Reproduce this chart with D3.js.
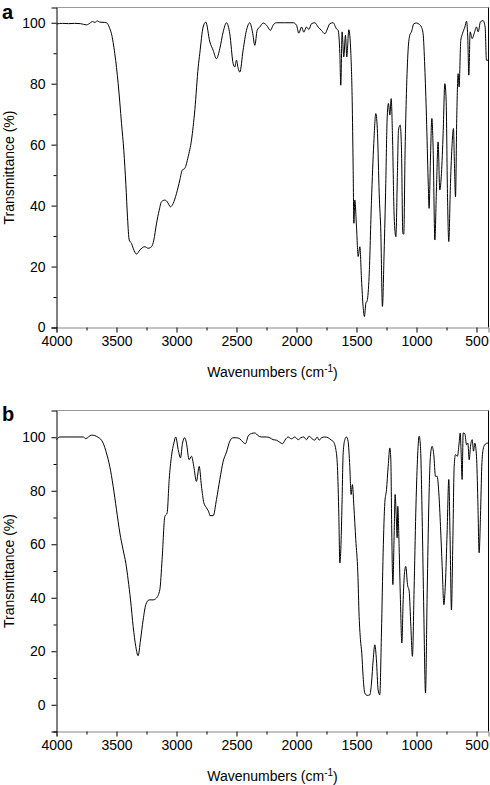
<!DOCTYPE html>
<html>
<head>
<meta charset="utf-8">
<script src="https://cdnjs.cloudflare.com/ajax/libs/d3/7.8.5/d3.min.js"></script>
<style>
  html, body { margin: 0; padding: 0; background: #fff; }
  svg { display: block; }
  text { font-family: "Liberation Sans", Arial, Helvetica, sans-serif; fill: #000; }
</style>
</head>
<body>
<svg id="chart" width="490" height="785"></svg>
<script>
// ---------- Data ----------
const wavenumbersA = [4000,3950,3900,3850,3800,3750,3720,3700,3680,3660,3640,3600,3583,3560,3542,3514,3486,3458,3439,3422,3408,3394,3375,3361,3333,3306,3264,3236,3208,3189,3167,3144,3125,3097,3078,3050,3028,3000,2972,2953,2931,2903,2875,2847,2819,2806,2778,2756,2722,2695,2667,2639,2611,2583,2556,2528,2514,2500,2486,2472,2445,2417,2389,2367,2347,2328,2306,2278,2250,2217,2195,2167,2100,2028,2000,1981,1958,1939,1917,1897,1875,1847,1820,1792,1764,1736,1722,1695,1667,1653,1639,1631,1620,1606,1592,1581,1564,1547,1536,1528,1522,1514,1500,1486,1472,1458,1445,1434,1422,1411,1395,1375,1356,1339,1325,1311,1297,1284,1270,1256,1245,1234,1222,1211,1200,1186,1172,1159,1150,1136,1125,1114,1106,1095,1084,1070,1056,1042,1022,1000,978,959,945,931,917,903,895,884,872,861,847,834,820,806,792,778,764,753,742,731,717,703,692,684,675,664,653,645,631,617,597,583,572,564,553,536,520,500,486,467,445,428,417,400];
const transmittanceA = [99.6,99.8,99.7,99.8,99.7,99.3,99.9,100.4,100.1,100.6,100.2,100.1,100,98.5,96.4,89.8,80,66.9,58,47,36,28.7,27.6,26,24.1,25.4,26.5,26,26.5,28.7,34,38.5,41.3,41.8,41.3,39.6,40.7,44,48.4,51.6,52.2,56,61.5,71.5,85.5,89.9,98.6,100.2,93.7,91,88.2,91.5,97,100,96.4,86.6,85.5,87.7,85,83.8,91,97.5,100,97,92.6,97.5,98.6,99.9,99.2,97.5,99.2,100,100,100,99.2,96.6,98.6,96.9,98.6,97.8,99.7,100,98.6,97.5,96.4,98.6,99.7,100,98,97.5,89.9,79.5,97,88.8,95.9,88.8,97.7,89.9,74.6,52.7,34.2,41.8,33,23.3,26.5,15.6,6.9,3.6,8,8.8,16.7,41.8,60.4,70.2,63.7,44,30.9,6.9,24.4,47.3,68.1,73.5,69.7,75.1,62.6,36.3,29.8,50.6,64.8,66.4,58.2,30.9,30.6,58.2,76.8,91,95.9,97,99.7,99.9,99.5,98.6,96.4,85.5,69.1,48.4,39.1,54.9,68.6,58.2,28.7,45.1,60.9,45.1,50.6,63.7,80,74.6,44,28.2,47.3,60.4,65.3,53.8,42.9,70,83.3,78.9,94.2,96.4,98.6,100.5,94.2,82.8,97,94.8,96.4,98.6,97,100.3,100.7,98.6,87.7,87.7];

const wavenumbersB = [4000,3972,3889,3778,3756,3708,3653,3611,3584,3556,3528,3500,3472,3445,3422,3403,3383,3361,3339,3320,3300,3278,3256,3228,3195,3167,3139,3120,3097,3078,3061,3042,3022,3006,2986,2967,2950,2931,2917,2895,2875,2856,2834,2811,2792,2772,2750,2728,2722,2694,2667,2639,2611,2583,2556,2528,2500,2472,2445,2425,2403,2375,2347,2320,2292,2250,2222,2195,2167,2139,2117,2089,2070,2042,2014,1986,1964,1939,1917,1895,1870,1847,1828,1811,1792,1764,1736,1709,1695,1672,1659,1647,1639,1628,1620,1611,1597,1584,1570,1556,1545,1534,1522,1506,1489,1478,1467,1456,1445,1431,1411,1389,1375,1361,1347,1334,1320,1306,1292,1278,1264,1250,1236,1222,1214,1206,1197,1186,1178,1170,1161,1156,1145,1134,1122,1111,1100,1089,1075,1061,1047,1034,1020,1006,992,978,967,953,939,925,911,897,884,870,856,842,828,814,800,786,772,759,745,731,720,709,697,686,675,659,645,636,628,620,611,597,583,572,561,550,536,525,514,500,489,478,467,456,445,431,411,400];
const transmittanceB = [99.1,100.1,100.1,100.1,99.5,100.8,100,97.8,94.1,89.1,81.7,72.9,64.2,57.9,52.9,46.7,39.2,29.2,21.7,18.3,24.2,31.7,37.4,39.2,39.2,39.9,43,54.3,70.4,71.7,84.2,92.9,97.8,100.1,95.4,92.3,97.8,99.8,97.8,91.6,92.9,89.1,83.5,89.1,81.7,75.5,73.6,71.7,70.7,70.7,76.7,84.2,91,94.5,98.5,99.8,99.8,99.4,98.1,97.6,100.4,101.4,101.6,100.6,100.1,100.1,99.8,99.1,98.9,98.1,97.6,99.4,100.1,99.4,100.1,99.1,99.8,100.1,99.1,100.4,99.4,98.9,100.1,98.9,99.8,100.1,99.8,98.9,98.5,95.4,89.1,70.4,53,61.7,76.7,94.2,99.1,100.1,98.5,89.1,78.6,82.3,74.2,61.7,49.3,33,24.3,19.3,10.6,4.4,3.5,3.7,8.1,16.8,22.4,16.8,5.6,3.7,26.8,56.8,75.5,80.4,89.1,96,91.6,64.2,44.9,64.2,78.6,71.7,62.4,74.2,59.2,39.3,23.1,39.3,49.3,51.7,44.9,42.4,29.3,18.1,43,71.7,91.6,100.4,96.6,70.4,34.3,4.4,41.8,75.5,92.9,96.6,93.5,85.4,85.4,79.2,66.7,51.7,37.4,45.5,64.2,84.2,61.7,35.5,61.7,89.1,93.5,92.9,97.8,101.6,94.2,84.2,101.6,101.3,97.2,97.8,91.6,96.6,99.1,94.8,97.8,92.9,76.7,56.8,70.4,89.1,95.4,97.2,97.8,97.8];

const xMajorTicks = [4000,3500,3000,2500,2000,1500,1000,500];
const xMinorTicks = [3750,3250,2750,2250,1750,1250,750];
const yMajorTicksA = [0,20,40,60,80,100];
const yMinorTicksA = [10,30,50,70,90];
const yMajorTicksB = [0,20,40,60,80,100];
const yMinorTicksB = [-10,10,30,50,70,90];
const xDomain = [4000, 400];
const yDomainA = [0, 105];
const yDomainB = [-10, 110];
const panelLabels = ["a", "b"];
const xTitle = "Wavenumbers (cm";
const yTitle = "Transmittance (%)";

// ---------- Drawing ----------
const svg = d3.select("#chart");
const left = 56.5, right = 488.5;

function drawPanel(cfg) {
  const x = d3.scaleLinear().domain(xDomain).range([left, right]);
  const y = d3.scaleLinear().domain(cfg.yDomain).range([cfg.bottom, cfg.top]);
  const g = svg.append("g");

  // frame: top and right borders
  g.append("line").attr("x1", left).attr("x2", right).attr("y1", cfg.top).attr("y2", cfg.top)
    .attr("stroke", "#999").attr("stroke-width", 1.2);
  g.append("line").attr("x1", right).attr("x2", right).attr("y1", cfg.top).attr("y2", cfg.bottom)
    .attr("stroke", "#000").attr("stroke-width", 1);

  // x axis major
  const xAx = g.append("g").attr("transform", `translate(0,${cfg.bottom})`)
    .call(d3.axisBottom(x).tickValues(xMajorTicks).tickSize(5).tickPadding(4).tickFormat(d3.format("d")));
  xAx.select(".domain").attr("stroke", "#888").attr("stroke-width", 1.2);
  xAx.selectAll(".tick line").attr("stroke", "#000");
  xAx.selectAll("text").style("font-size", "14px").attr("fill", "#000");
  // x axis minor
  const xMin = g.append("g").attr("transform", `translate(0,${cfg.bottom})`)
    .call(d3.axisBottom(x).tickValues(xMinorTicks).tickSize(3).tickFormat(""));
  xMin.select(".domain").remove();
  xMin.selectAll(".tick line").attr("stroke", "#000");

  // y axis major
  const yAx = g.append("g").attr("transform", `translate(${left},0)`)
    .call(d3.axisLeft(y).tickValues(cfg.yMajor).tickSize(5).tickPadding(6).tickFormat(d3.format("d")));
  yAx.select(".domain").attr("stroke", "#000").attr("stroke-width", 1);
  yAx.selectAll(".tick line").attr("stroke", "#000");
  yAx.selectAll("text").style("font-size", "14px").attr("fill", "#000");
  const yMin = g.append("g").attr("transform", `translate(${left},0)`)
    .call(d3.axisLeft(y).tickValues(cfg.yMinor).tickSize(3).tickFormat(""));
  yMin.select(".domain").remove();
  yMin.selectAll(".tick line").attr("stroke", "#000");

  // spectrum
  const data = cfg.wn.map((w, i) => ({ w, t: cfg.tr[i] }));
  const line = d3.line().x(d => x(d.w)).y(d => y(d.t)).curve(d3.curveMonotoneX);
  g.append("path").datum(data).attr("d", line)
    .attr("fill", "none").attr("stroke", "#000").attr("stroke-width", 1)
    .attr("stroke-linejoin", "round");

  // x title
  const xt = g.append("text").attr("x", (left + right) / 2).attr("y", cfg.bottom + 49)
    .attr("text-anchor", "middle").style("font-size", "14px");
  xt.append("tspan").text(xTitle);
  xt.append("tspan").attr("dy", "-0.45em").style("font-size", "10px").text("-1");
  xt.append("tspan").attr("dy", "0.45em").text(")");

  // y title
  g.append("text")
    .attr("transform", `translate(14,${(cfg.top + cfg.bottom) / 2}) rotate(-90)`)
    .attr("text-anchor", "middle").style("font-size", "14px").text(yTitle);

  // panel label
  g.append("text").attr("x", 2).attr("y", cfg.labelY)
    .style("font-size", "20px").style("font-weight", "bold").text(cfg.label);
}

drawPanel({ wn: wavenumbersA, tr: transmittanceA, yDomain: yDomainA, yMajor: yMajorTicksA, yMinor: yMinorTicksA,
            top: 7.5, bottom: 327.5, label: panelLabels[0], labelY: 19 });
drawPanel({ wn: wavenumbersB, tr: transmittanceB, yDomain: yDomainB, yMajor: yMajorTicksB, yMinor: yMinorTicksB,
            top: 410.5, bottom: 731.5, label: panelLabels[1], labelY: 421 });
</script>
</body>
</html>
